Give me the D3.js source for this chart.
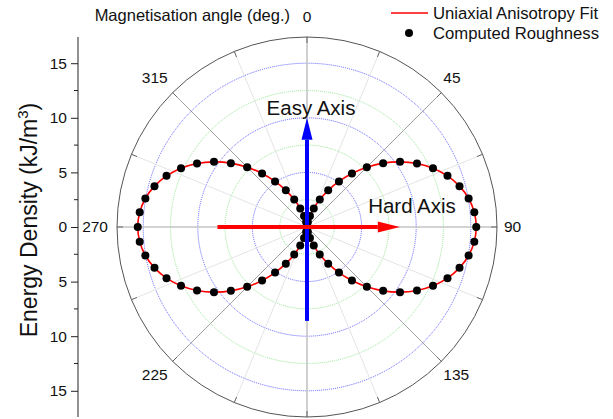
<!doctype html>
<html lang="en">
<head>
<meta charset="utf-8">
<title>Polar anisotropy</title>
<style>
  body { margin: 0; background: #fff; }
  svg { display: block; font-family: "Liberation Sans", Arial, sans-serif; }
</style>
</head>
<body>
<svg id="chart" width="613" height="419"></svg>
<script src="https://cdn.jsdelivr.net/npm/d3@7/dist/d3.min.js"></script>
<script>
// magnetisation angle in degrees, one point every 5 deg
var angles = d3.range(0, 360, 5);

// computed roughness energy density (kJ/m^3)
var roughness = [
  0, 0.12, 0.47, 1.04, 1.81, 2.77, 3.88, 5.10, 6.40, 7.75, 9.10, 10.40, 11.63, 12.73, 13.69, 14.46, 15.03, 15.38,
  15.50, 15.38, 15.03, 14.46, 13.69, 12.73, 11.63, 10.40, 9.10, 7.75, 6.40, 5.10, 3.88, 2.77, 1.81, 1.04, 0.47, 0.12,
  0, 0.12, 0.47, 1.04, 1.81, 2.77, 3.88, 5.10, 6.40, 7.75, 9.10, 10.40, 11.63, 12.73, 13.69, 14.46, 15.03, 15.38,
  15.50, 15.38, 15.03, 14.46, 13.69, 12.73, 11.63, 10.40, 9.10, 7.75, 6.40, 5.10, 3.88, 2.77, 1.81, 1.04, 0.47, 0.12
];

// uniaxial anisotropy fit, same sampling
var fit = roughness.slice();

var angleLabels = [0, 45, 90, 135, 225, 270, 315];
var radialTicks = [5, 10, 15];
var radialMinor = [2.5, 7.5, 12.5];

// annotation arrows: [from angle, from r, to angle, to r]
var easyAxis = { a0: 180, r0: 8.6, a1: 0, r1: 10.0 };
var hardAxis = { a0: 270, r0: 8.2, a1: 90, r1: 8.5 };

(function () {
  "use strict";
  var svg = d3.select("#chart");
  var cx = 307, cy = 227, R = 190;
  var r = d3.scaleLinear().domain([0, 17.4]).range([0, R]);
  var rad = function (d) { return d * Math.PI / 180; };
  var pt = function (a, v) { return [cx + r(v) * Math.sin(rad(a)), cy - r(v) * Math.cos(rad(a))]; };

  // grid circles
  var g = svg.append("g");
  g.selectAll("circle.minor").data(radialMinor).join("circle")
    .attr("cx", cx).attr("cy", cy).attr("r", function (d) { return r(d); })
    .attr("fill", "none").attr("stroke", "#7be07b").attr("stroke-width", 0.8).attr("stroke-dasharray", "1,1");
  g.selectAll("circle.major").data(radialTicks).join("circle")
    .attr("cx", cx).attr("cy", cy).attr("r", function (d) { return r(d); })
    .attr("fill", "none").attr("stroke", "#3a3aff").attr("stroke-width", 0.8).attr("stroke-dasharray", "1,1");

  // spokes
  var spokes = d3.range(0, 360, 22.5);
  g.selectAll("line.spoke").data(spokes).join("line")
    .attr("x1", cx).attr("y1", cy)
    .attr("x2", function (d) { return cx + R * Math.sin(rad(d)); })
    .attr("y2", function (d) { return cy - R * Math.cos(rad(d)); })
    .attr("stroke", function (d) { return d % 90 === 0 ? "#c4c4c4" : (d % 45 === 0 ? "#a0a0a0" : "#e4e4e4"); })
    .attr("stroke-width", function (d) { return d % 90 === 0 ? 1.6 : 1; });

  // ticks on the outer ring
  g.selectAll("line.tick").data(spokes).join("line")
    .attr("x1", function (d) { return cx + (R - 6) * Math.sin(rad(d)); })
    .attr("y1", function (d) { return cy - (R - 6) * Math.cos(rad(d)); })
    .attr("x2", function (d) { return cx + R * Math.sin(rad(d)); })
    .attr("y2", function (d) { return cy - R * Math.cos(rad(d)); })
    .attr("stroke", "#666").attr("stroke-width", 1);

  g.append("circle").attr("cx", cx).attr("cy", cy).attr("r", R)
    .attr("fill", "none").attr("stroke", "#555").attr("stroke-width", 1);

  // angle labels
  var lab = svg.append("g").attr("font-size", 15.5).attr("fill", "#111");
  angleLabels.forEach(function (a) {
    var p = pt(a, 17.4), x = p[0], y = p[1], anchor = "middle", dy = "0.35em";
    if (a === 0) { y = cy - R - 15; dy = "0"; }
    else if (a === 90) { x += 7; anchor = "start"; }
    else if (a === 270) { x -= 9; anchor = "end"; }
    else if (a === 45) { x += 2; y -= 10; anchor = "start"; dy = "0"; }
    else if (a === 315) { x -= 5; y -= 10; anchor = "end"; dy = "0"; }
    else if (a === 135) { x += 2; y += 19; anchor = "start"; dy = "0"; }
    else if (a === 225) { x -= 5; y += 19; anchor = "end"; dy = "0"; }
    lab.append("text").attr("x", x).attr("y", y).attr("dy", dy)
      .attr("text-anchor", anchor).text(a);
  });
  svg.append("text").attr("x", 290).attr("y", 21).attr("text-anchor", "end")
    .attr("font-size", 16.5).attr("fill", "#111").text("Magnetisation angle (deg.)");

  // radial (y) axis on the left
  var yScale = d3.scaleLinear().domain([17.4, -17.4]).range([cy - R, cy + R]);
  var yTicks = [15, 10, 5, 0, -5, -10, -15];
  var yMinor = [12.5, 7.5, 2.5, -2.5, -7.5, -12.5];
  var ax = svg.append("g").attr("transform", "translate(78,0)");
  ax.call(d3.axisLeft(yScale).tickValues(yTicks).tickSize(7).tickPadding(4)
    .tickFormat(function (d) { return Math.abs(d); }));
  ax.select(".domain").attr("stroke", "#222").attr("d", "M0," + (cy - R) + "V" + (cy + R));
  ax.selectAll(".tick line").attr("stroke", "#222");
  ax.selectAll(".tick text").attr("font-size", 15.5).attr("fill", "#111")
    .attr("font-family", "Liberation Sans, Arial, sans-serif");
  ax.selectAll("line.minor").data(yMinor).join("line").attr("class", "minor")
    .attr("x1", -4).attr("x2", 0)
    .attr("y1", function (d) { return yScale(d); }).attr("y2", function (d) { return yScale(d); })
    .attr("stroke", "#222");

  svg.append("text")
    .attr("transform", "translate(37," + 220 + ") rotate(-90)")
    .attr("text-anchor", "middle").attr("font-size", 23).attr("fill", "#111")
    .html("Energy Density (kJ/m<tspan dy='-9' font-size='15'>3</tspan><tspan dy='9'>)</tspan>");

  // fit curve
  var line = d3.lineRadial()
    .angle(function (d, i) { return rad(angles[i]); })
    .radius(function (d) { return r(d); })
    .curve(d3.curveCardinalClosed);
  svg.append("path").datum(fit)
    .attr("transform", "translate(" + cx + "," + cy + ")")
    .attr("d", line).attr("fill", "none").attr("stroke", "#ff0000").attr("stroke-width", 1.6);

  // computed points
  svg.append("g").selectAll("circle").data(roughness).join("circle")
    .attr("cx", function (d, i) { return pt(angles[i], d)[0]; })
    .attr("cy", function (d, i) { return pt(angles[i], d)[1]; })
    .attr("r", 4).attr("fill", "#000");

  // arrows
  function arrow(o, color) {
    var p0 = pt(o.a0, o.r0), p1 = pt(o.a1, o.r1);
    var dx = p1[0] - p0[0], dy = p1[1] - p0[1], len = Math.sqrt(dx * dx + dy * dy);
    var ux = dx / len, uy = dy / len, hl = 22, hw = 5.5;
    var bx = p1[0] - ux * hl, by = p1[1] - uy * hl;
    svg.append("line").attr("x1", p0[0]).attr("y1", p0[1]).attr("x2", bx).attr("y2", by)
      .attr("stroke", color).attr("stroke-width", 4);
    svg.append("path")
      .attr("d", "M" + p1[0] + "," + p1[1] + "L" + (bx - uy * hw) + "," + (by + ux * hw) +
        "L" + (bx + uy * hw) + "," + (by - ux * hw) + "Z")
      .attr("fill", color);
  }
  arrow(easyAxis, "#0000ff");
  arrow(hardAxis, "#ff0000");

  svg.append("text").attr("x", 311).attr("y", 115).attr("text-anchor", "middle")
    .attr("font-size", 20.5).attr("fill", "#111").text("Easy Axis");
  svg.append("text").attr("x", 412).attr("y", 213).attr("text-anchor", "middle")
    .attr("font-size", 20.5).attr("fill", "#111").text("Hard Axis");

  // legend
  var lg = svg.append("g").attr("font-size", 16.7).attr("fill", "#111");
  lg.append("line").attr("x1", 391).attr("x2", 428).attr("y1", 13).attr("y2", 13)
    .attr("stroke", "#ff0000").attr("stroke-width", 1.6);
  lg.append("text").attr("x", 433).attr("y", 19).text("Uniaxial Anisotropy Fit");
  lg.append("circle").attr("cx", 409).attr("cy", 33).attr("r", 4).attr("fill", "#000");
  lg.append("text").attr("x", 433).attr("y", 39).text("Computed Roughness");
})();
</script>
</body>
</html>
